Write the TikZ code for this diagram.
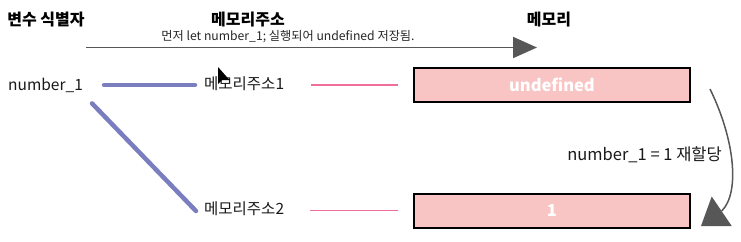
\documentclass[tikz,border=0pt]{standalone}
\usepackage{fontspec}
\setmainfont{Noto Sans CJK KR}
\usetikzlibrary{arrows.meta}
\definecolor{boxpink}{HTML}{F9C4C4}
\definecolor{linkblue}{HTML}{7A7EBE}
\definecolor{linkpink}{HTML}{F06E98}
\definecolor{arrgray}{HTML}{575757}
\begin{document}
\begin{tikzpicture}[x=1pt,y=-1pt,
  hdr/.style={font=\fontsize{16}{16}\selectfont\bfseries, inner sep=0},
  lbl/.style={font=\fontsize{15.5}{16}\selectfont, inner sep=0, text=black!90},
  sub/.style={font=\fontsize{12.2}{12}\selectfont, inner sep=0, text=black!85},
  mem/.style={draw=black, line width=2pt, fill=boxpink, minimum width=276pt, minimum height=34pt, inner sep=0, text=white, font=\fontsize{16.5}{16}\selectfont\bfseries},
  bluelink/.style={draw=linkblue, line width=4.5pt, line cap=round},
  pinklink/.style={draw=linkpink, line width=1.6pt},
  grayarrow/.style={draw=arrgray, line width=1.8pt}
]
\useasboundingbox (0,0) rectangle (741,241);
% headers
\node[hdr] (h1) at (46,20) {변수 식별자};
\node[hdr] (h2) at (248,20) {메모리주소};
\node[hdr] (h3) at (549,20) {메모리};
\node[sub] (s1) at (288,36.5) {먼저 let number\_1; 실행되어 undefined 저장됨.};
% top arrow
\coordinate (ta) at (86,47.5);
\coordinate (tb) at (537,47.5);
\draw[grayarrow, -{Triangle[length=24pt,width=21pt]}] (ta) -- (tb);
% left labels
\node[lbl, anchor=west] (n1) at (8,85) {number\_1};
\node[lbl, anchor=west] (a1) at (204,84) {메모리주소1};
\node[lbl, anchor=west] (a2) at (204,209) {메모리주소2};
% memory boxes
\node[mem] (m1) at (552,85) {undefined};
\node[mem] (m2) at (552,210.5) {1};
% links
\draw[bluelink, shorten <=21pt, shorten >=9pt] (n1.east) -- (n1.east -| a1.west);
\draw[bluelink] ([xshift=9pt,yshift=-11pt]n1.south east) -- ([xshift=-8pt,yshift=-2pt]a2.west);
\draw[pinklink, shorten <=27pt, shorten >=15pt] (a1.east |- m1.west) -- (m1.west);
\draw[pinklink, shorten <=26pt, shorten >=15pt] (a2.east |- m2.west) -- (m2.west);
% reassignment arrow
\coordinate (ra) at (710,89);
\coordinate (rb) at (721.7,211);
\draw[draw=arrgray, line width=1.5pt] (ra) .. controls (735,140) and (740,193) .. (rb);
\fill[arrgray] (711.7,196.5) -- (701,226) -- (731.7,226) -- cycle;
\node[lbl, anchor=east, font=\fontsize{16.5}{17}\selectfont] (r1) at (722,155) {number\_1 = 1 재할당};
% mouse pointer
\fill[black] (218,67) -- (218,84) -- (222,80) -- (229.5,80) -- cycle;
\end{tikzpicture}
\end{document}
